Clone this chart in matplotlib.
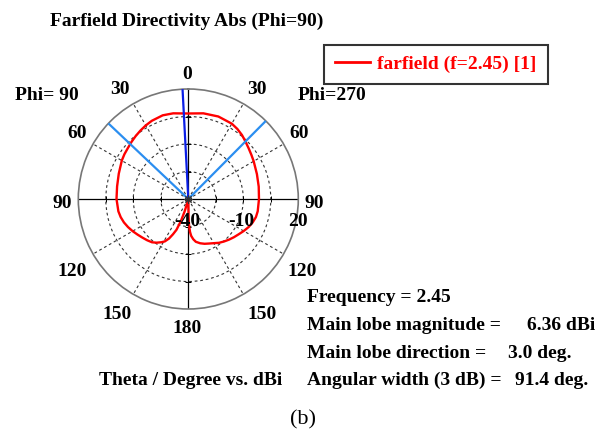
import numpy as np
import matplotlib
matplotlib.use("Agg")
import matplotlib.pyplot as plt

W, H = 606, 436

# farfield cut, theta in degrees (negative = Phi=90 side, left), values in dBi
theta_left = [-166, -165, -163.5, -161.5, -159, -156.5, -154, -151, -148, -144,
              -140, -135, -130, -125, -120, -115, -110, -105, -100, -90, -80,
              -70, -60, -55, -50, -45, -40, -35, -30, -25, -17, -10]
db_left = [-40, -37.3, -32.9, -27.45, -22.0, -19.0, -16.0, -13.55, -12.18, -10.55,
           -9.18, -8.2, -7.27, -6.18, -4.93, -3.73, -2.64, -1.82, -1.27, -0.84,
           -0.56, 0.36, 1.89, 2.55, 3.09, 3.91, 4.73, 5.55, 6.36, 7.07, 7.73, 7.45]
theta_right = [0, 10, 20, 30, 35, 40, 45, 50, 55, 60, 70, 80, 90, 100, 105, 110,
               115, 120, 125, 130, 135, 140, 145, 150, 155, 160, 165, 170, 173,
               175.5, 177, 178.3, 179.2, 180]
db_right = [6.64, 7.45, 7.89, 7.45, 6.64, 5.55, 4.18, 2.98, 2.0, 1.18, -0.18,
            -1.0, -1.44, -1.55, -1.82, -2.64, -3.73, -5.09, -6.45, -7.55, -8.64,
            -9.73, -10.82, -12.18, -13.2, -14.0, -15.0, -16.3, -17.9, -19.8,
            -22.0, -25.3, -30.2, -40]

main_lobe_dir = -3.0          # deg
beam_edges = [-46.6, 44.8]    # 3 dB angular width lines
r_min, r_max = -40, 20
grid_r = [-25, -10, 5]
grid_theta = [30, 60, 120, 150, 210, 240, 300, 330]

theta_labels = ["0", "30", "30", "60", "60", "90", "90", "120", "120", "150", "150", "180"]
theta_label_xy = [(187.5, 79), (120, 94.5), (257, 94.5), (77, 137.5), (299, 137.5),
                  (62, 207.5), (314, 207.5), (72, 276), (302, 276), (117, 318.5),
                  (262, 318.5), (187.5, 333)]
r_labels = ["-40", "-10", "20"]
r_label_xy = [(187.5, 226), (241, 226), (298, 226)]

info_lines = ["Frequency = 2.45", "Main lobe magnitude =", "Main lobe direction =",
              "Angular width (3 dB) ="]
info_values = ["", "6.36 dBi", "3.0 deg.", "91.4 deg."]
info_value_x = [0, 527, 508, 515]
info_y = [301.5, 329.5, 357.5, 385]

FONT = dict(family="Liberation Serif", fontweight="bold", fontsize=14)


def px(x, y):
    return x / W, 1 - y / H


def main():
    fig = plt.figure(figsize=(W / 100, H / 100), dpi=100)
    cx, cy, rad = 188.3, 199, 110
    ax = fig.add_axes([(cx - rad) / W, 1 - (cy + rad) / H, 2 * rad / W, 2 * rad / H],
                      projection="polar")
    ax.set_theta_zero_location("N")
    ax.set_theta_direction(-1)
    ax.set_rlim(r_min, r_max)

    # dashed grid
    ax.set_xticks(np.deg2rad(grid_theta))
    ax.set_xticklabels([])
    ax.set_yticks(grid_r)
    ax.set_yticklabels([])
    ax.grid(True, color="#333333", linestyle=(0, (2.5, 2.5)), linewidth=0.8)
    ax.spines["polar"].set_color("#777777")
    ax.spines["polar"].set_linewidth(1.2)

    # solid cross through the centre with small ticks
    for a in [0, 90, 180, 270]:
        ax.plot(np.deg2rad([a, a]), [r_min, r_max], color="black", lw=0.9)
        mk = "|" if a in (90, 270) else "_"
        ax.plot(np.deg2rad([a] * len(grid_r)), grid_r, ls="none", marker=mk,
                ms=4, mew=0.7, color="black")

    th = np.deg2rad(theta_left + theta_right)
    ax.plot(th, db_left + db_right, color="#ff0000", lw=1.7,
            label="farfield (f=2.45) [1]", zorder=3)

    for a in beam_edges:
        ax.plot(np.deg2rad([a, a]), [r_min, r_max], color="#2b8ef0", lw=1.6, zorder=4)
    ax.plot(np.deg2rad([main_lobe_dir] * 2), [r_min, r_max], color="#0a1ee6", lw=1.6, zorder=4)
    ax.plot([0], [r_min], marker=(8, 2, 0), ms=6, mew=0.8, color="#333333", zorder=5)

    leg = ax.legend(loc="upper left", bbox_to_anchor=px(324, 45),
                    bbox_transform=fig.transFigure, frameon=True, fancybox=False,
                    handlelength=1.8, handletextpad=0.4, borderpad=0.55,
                    borderaxespad=0, labelcolor="linecolor",
                    prop={"family": "Liberation Serif", "weight": "bold", "size": 14})
    leg.get_frame().set_edgecolor("black")
    leg.get_frame().set_linewidth(1.5)
    for h in leg.get_lines():
        h.set_linewidth(2)

    for s, (x, y) in zip(theta_labels, theta_label_xy):
        fig.text(*px(x, y), s, ha="center", va="baseline", **FONT)
    for s, (x, y) in zip(r_labels, r_label_xy):
        fig.text(*px(x, y), s, ha="center", va="baseline", **FONT)

    fig.text(*px(50, 26), "Farfield Directivity Abs (Phi=90)", ha="left", va="baseline", **FONT)
    fig.text(*px(15, 99.5), "Phi= 90", ha="left", va="baseline", **FONT)
    fig.text(*px(298, 99.5), "Phi=270", ha="left", va="baseline", **FONT)
    fig.text(*px(282, 385), "Theta / Degree vs. dBi", ha="right", va="baseline", **FONT)

    for s, v, vx, y in zip(info_lines, info_values, info_value_x, info_y):
        fig.text(*px(307, y), s, ha="left", va="baseline", **FONT)
        if v:
            fig.text(*px(vx, y), v, ha="left", va="baseline", **FONT)

    fig.text(*px(290, 424), "(b)", ha="left", va="baseline",
             family="Liberation Serif", fontsize=16)

    fig.savefig("out.png", dpi=100)


if __name__ == "__main__":
    main()
